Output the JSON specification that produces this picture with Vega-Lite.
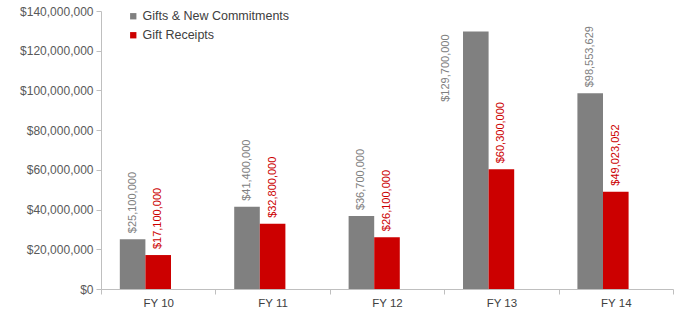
{
  "$schema": "https://vega.github.io/schema/vega-lite/v6.json",
  "width": 572,
  "height": 278,
  "autosize": {"type": "none"},
  "padding": {"left": 101, "top": 11, "right": 5, "bottom": 25},
  "background": "white",
  "config": {"view": {"stroke": null}, "font": "Liberation Sans"},
  "data": {"values": [
    {"fy": "FY 10", "series": "Gifts & New Commitments", "value": 25100000},
    {"fy": "FY 10", "series": "Gift Receipts", "value": 17100000},
    {"fy": "FY 11", "series": "Gifts & New Commitments", "value": 41400000},
    {"fy": "FY 11", "series": "Gift Receipts", "value": 32800000},
    {"fy": "FY 12", "series": "Gifts & New Commitments", "value": 36700000},
    {"fy": "FY 12", "series": "Gift Receipts", "value": 26100000},
    {"fy": "FY 13", "series": "Gifts & New Commitments", "value": 129700000},
    {"fy": "FY 13", "series": "Gift Receipts", "value": 60300000},
    {"fy": "FY 14", "series": "Gifts & New Commitments", "value": 98553629},
    {"fy": "FY 14", "series": "Gift Receipts", "value": 49023052}
  ]},
  "encoding": {
    "x": {"field": "fy", "type": "nominal", "sort": null,
      "scale": {"paddingInner": 0, "paddingOuter": 0},
      "axis": {"title": null, "labelAngle": 0, "tickBand": "extent", "domainColor": "#bfbfbf", "tickColor": "#bfbfbf", "labelColor": "#404040", "labelFontSize": 11.5, "tickSize": 5, "labelPadding": 3}},
    "xOffset": {"field": "series", "type": "nominal",
      "scale": {"domain": ["Gifts & New Commitments", "Gift Receipts", "_"], "paddingInner": 0, "paddingOuter": 0.735}},
    "y": {"field": "value", "type": "quantitative",
      "scale": {"domain": [0, 140000000], "nice": false},
      "axis": {"title": null, "grid": false, "values": [0, 20000000, 40000000, 60000000, 80000000, 100000000, 120000000, 140000000], "format": "$,.0f", "domainColor": "#bfbfbf", "tickColor": "#bfbfbf", "labelColor": "#595959", "labelFontSize": 12, "tickSize": 5, "labelPadding": 3}},
    "color": {"field": "series", "type": "nominal",
      "scale": {"domain": ["Gifts & New Commitments", "Gift Receipts"], "range": ["#808080", "#cc0000"]},
      "legend": {"title": null, "orient": "none", "legendX": 26, "legendY": -1, "symbolType": "square", "symbolSize": 40, "labelFontSize": 12.5, "labelColor": "#404040", "rowPadding": 6, "labelOffset": 3}}
  },
  "layer": [
    {"mark": {"type": "bar"}},
    {"transform": [{"filter": "datum.value < 120000000"}],
      "mark": {"type": "text", "angle": 270, "align": "left", "baseline": "middle", "dx": 6, "fontSize": 11},
      "encoding": {"text": {"field": "value", "type": "quantitative", "format": "$,.0f"}}},
    {"transform": [{"filter": "datum.value >= 120000000"}],
      "mark": {"type": "text", "angle": 270, "align": "right", "baseline": "middle", "dx": -3, "dy": -30, "fontSize": 11},
      "encoding": {"text": {"field": "value", "type": "quantitative", "format": "$,.0f"}}}
  ]
}
